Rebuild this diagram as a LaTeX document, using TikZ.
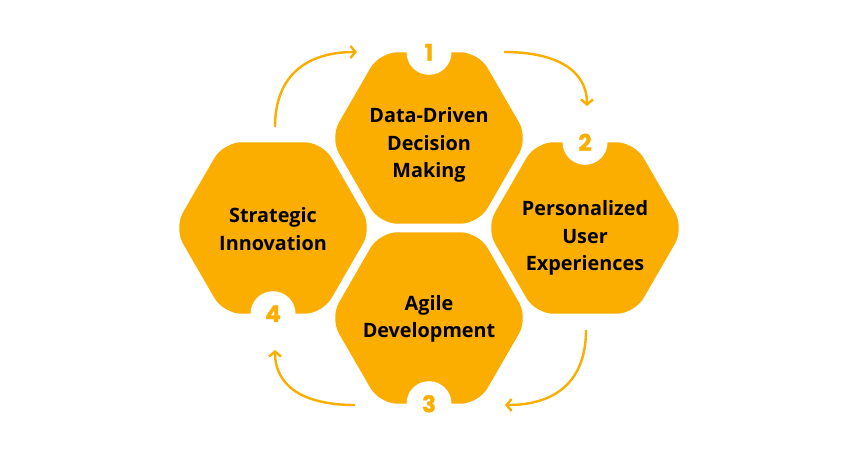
\documentclass[tikz,border=0pt]{standalone}
\usepackage{fontspec}
\setmainfont{Open Sans}
\newfontfamily\numfont{Poppins}[BoldFeatures={FakeBold=1.2}]
\usetikzlibrary{shapes.geometric,arrows.meta}
\definecolor{hexorange}{RGB}{252,174,0}
\begin{document}
\begin{tikzpicture}[x=1pt,y=-1pt,
  hexbox/.style={regular polygon, regular polygon sides=6, minimum size=198pt, inner sep=0pt, fill=hexorange, rounded corners=18pt},
  hexlabel/.style={align=center, text=black, inner sep=0pt, font=\bfseries\fontsize{19.8}{27.5}\selectfont},
  badge/.style={circle, fill=white, minimum size=45pt, inner sep=0pt, text=hexorange, font=\numfont\bfseries\fontsize{23}{23}\selectfont},
  flow/.style={draw=hexorange, line width=2.4pt, -{Straight Barb[length=5pt,width=12pt]}}
]
\fill[white] (0,0) rectangle (860,456);
\useasboundingbox (0,0) rectangle (860,456);

\node[hexbox] (h1) at (429,138) {};
\node[hexbox] (h2) at (585,228) {};
\node[hexbox] (h3) at (429,318) {};
\node[hexbox] (h4) at (273,228) {};

\node[hexlabel] (t1) at (429,145) {Data-Driven\\Decision\\Making};
\node[hexlabel] (t2) at (585,238) {Personalized\\User\\Experiences};
\node[hexlabel] (t3) at (429,319) {Agile\\Development};
\node[hexlabel] (t4) at (273,229) {Strategic\\Innovation};

\node[badge] (b1) at (429,52.3) {1};
\node[badge] (b2) at (585,142.3) {2};
\node[badge] (b3) at (429,403.7) {3};
\node[badge] (b4) at (273,313.7) {4};

\coordinate (a1s) at (275,127);
\coordinate (a1e) at (357,52);
\coordinate (a2s) at (504,52);
\coordinate (a2e) at (587,106);
\coordinate (a3s) at (586,330);
\coordinate (a3e) at (505,405);
\coordinate (a4s) at (355,405);
\coordinate (a4e) at (275,350);

\draw[flow] (a1s) .. controls +(0,-52) and +(-50,0) .. (a1e);
\draw[flow] (a2s) .. controls +(52,0) and +(0,-36) .. (a2e);
\draw[flow] (a3s) .. controls +(0,50) and +(52,0) .. (a3e);
\draw[flow] (a4s) .. controls +(-52,0) and +(0,36) .. (a4e);
\end{tikzpicture}
\end{document}
